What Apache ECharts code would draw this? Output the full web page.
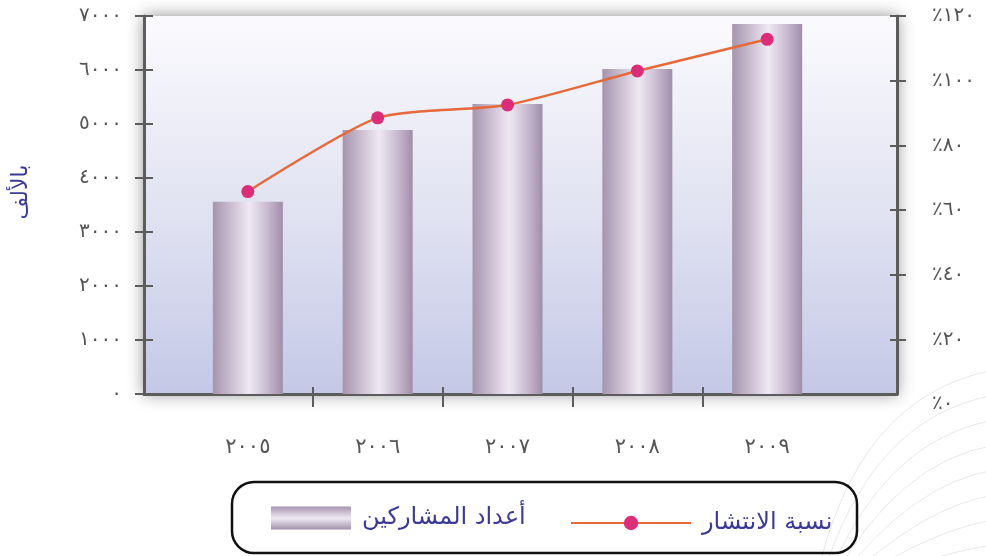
<!DOCTYPE html>
<html><head><meta charset="utf-8">
<script src="https://cdn.jsdelivr.net/npm/echarts@6/dist/echarts.min.js"></script>
<style>html,body{margin:0;padding:0;background:#fff}#c{width:986px;height:556px}</style>
</head><body><div id="c"></div>
<script>
// ---- data ----
const years = ['٢٠٠٥', '٢٠٠٦', '٢٠٠٧', '٢٠٠٨', '٢٠٠٩'];
const participants = [3560, 4890, 5370, 6020, 6850];      // thousands
const penetration = [65.7, 88.5, 92.5, 103, 112.8];       // percent
const leftTickLabels = ['٠', '١٠٠٠', '٢٠٠٠', '٣٠٠٠', '٤٠٠٠', '٥٠٠٠', '٦٠٠٠', '٧٠٠٠'];
const rightTickLabels = ['٪٠', '٪٢٠', '٪٤٠', '٪٦٠', '٪٨٠', '٪١٠٠', '٪١٢٠'];
const seriesNames = ['أعداد المشاركين', 'نسبة الانتشار'];
const unitName = 'بالألف';

const yearIdx = years.map((_, i) => i);
const boundaries = years.slice(1).map((_, i) => i + 0.5);
const rightTickVals = rightTickLabels.map((_, i) => i * 20);

const AX = '#5c5c5c';
const LBL = '#555555';
const FONT = "'DejaVu Sans', sans-serif";
const BLUE = '#3b3b96';

const barGrad = new echarts.graphic.LinearGradient(0, 0, 1, 0, [
  {offset: 0, color: '#a594ad'},
  {offset: 0.25, color: '#c9bccf'},
  {offset: 0.52, color: '#efe9f4'},
  {offset: 0.78, color: '#c8bad0'},
  {offset: 1, color: '#a08ea9'}
]);
const legendGrad = new echarts.graphic.LinearGradient(0, 0, 0, 1, [
  {offset: 0, color: '#a594ad'},
  {offset: 0.5, color: '#efe9f4'},
  {offset: 1, color: '#a392ac'}
]);
const bgGrad = new echarts.graphic.LinearGradient(0, 0, 0, 1, [
  {offset: 0, color: '#fbfbfe'},
  {offset: 0.5, color: '#e2e3f2'},
  {offset: 1, color: '#c4c8e6'}
]);

// decorative arcs (bottom right)
const deco = [];
for (let i = 0; i < 8; i++) {
  deco.push({
    type: 'bezierCurve', silent: true, z: -10,
    shape: {x1: 815 + 5 * i, y1: 585, cpx1: 855 + 14 * i, cpy1: 395 + 22 * i, x2: 995, y2: 370 + 25 * i},
    style: {stroke: '#e8e8e8', lineWidth: 1, fill: null}
  });
}

const noZero = {onZero: false};
const chart = echarts.init(document.getElementById('c'), null, {renderer: 'canvas'});
chart.setOption({
  animation: false,
  backgroundColor: '#ffffff',
  textStyle: {fontFamily: FONT},
  grid: [
    {left: 144, right: 89, top: 16, bottom: 162, show: true, backgroundColor: bgGrad,
     borderWidth: 0, shadowBlur: 16, shadowColor: 'rgba(0,0,0,0.45)', outerBoundsMode: 'none'},
    {left: 144, right: 89, top: 16, bottom: 152, show: false, outerBoundsMode: 'none'}
  ],
  xAxis: [
    {gridIndex: 0, type: 'value', min: -0.8, max: 5, position: 'bottom',
     axisLine: {show: true, onZero: false, lineStyle: {color: AX, width: 3}},
     axisTick: {show: true, customValues: boundaries, length: 13, lineStyle: {color: AX, width: 2}},
     axisLabel: {show: true, customValues: yearIdx, formatter: v => years[Math.round(v)],
                 margin: 43, fontSize: 21, fontWeight: 500, color: LBL, fontFamily: FONT},
     splitLine: {show: false}},
    {gridIndex: 0, type: 'value', min: -0.8, max: 5, position: 'bottom',
     axisLine: {show: false, onZero: false},
     axisTick: {show: true, inside: true, customValues: boundaries, length: 7, lineStyle: {color: AX, width: 2}},
     axisLabel: {show: false}, splitLine: {show: false}},
    {gridIndex: 1, type: 'value', min: -0.8, max: 5, show: false}
  ],
  yAxis: [
    {gridIndex: 0, type: 'value', position: 'left', min: 0, max: 7000, interval: 1000,
     name: unitName, nameLocation: 'middle', nameGap: 112, nameRotate: 90,
     nameTextStyle: {color: BLUE, fontSize: 22, fontFamily: FONT, padding: [0, 0, 0, 26]},
     axisLine: {show: true, onZero: false, lineStyle: {color: AX, width: 3}},
     axisTick: {show: true, length: 9, lineStyle: {color: AX, width: 2}},
     axisLabel: {show: true, margin: 22, fontSize: 20, fontWeight: 500, color: LBL, fontFamily: FONT,
                 formatter: v => leftTickLabels[Math.round(v / 1000)]},
     splitLine: {show: false}},
    {gridIndex: 0, type: 'value', position: 'left', min: 0, max: 7000, interval: 1000,
     axisLine: {show: false, onZero: false},
     axisTick: {show: true, inside: true, length: 9, lineStyle: {color: AX, width: 2}},
     axisLabel: {show: false}, splitLine: {show: false}},
    {gridIndex: 0, type: 'value', position: 'right', min: 3.1, max: 120,
     axisLine: {show: true, onZero: false, lineStyle: {color: AX, width: 3}},
     axisTick: {show: true, inside: true, length: 7, customValues: rightTickVals.slice(1), lineStyle: {color: AX, width: 2}},
     axisLabel: {show: false}, splitLine: {show: false}},
    {gridIndex: 1, type: 'value', position: 'right', min: 0, max: 120, interval: 20,
     axisLine: {show: false, onZero: false},
     axisTick: {show: true, length: 9, customValues: rightTickVals.slice(1), lineStyle: {color: AX, width: 2}},
     axisLabel: {show: true, margin: 35, fontSize: 20, fontWeight: 500, color: LBL, fontFamily: FONT,
                 customValues: rightTickVals, formatter: v => rightTickLabels[Math.round(v / 20)]},
     splitLine: {show: false}}
  ],
  legend: [
    {data: [{name: seriesNames[0], icon: 'rect', itemStyle: {color: legendGrad}}],
     left: 271, top: 506, padding: 0, itemWidth: 80, itemHeight: 23,
     textStyle: {color: BLUE, fontSize: 24, fontFamily: FONT, padding: [0, 0, 0, 6]}},
    {data: [{name: seriesNames[1]}],
     left: 570, top: 511, padding: 0, itemWidth: 120, itemHeight: 18,
     textStyle: {color: BLUE, fontSize: 24, fontFamily: FONT, padding: [0, 0, 0, 6]}}
  ],
  graphic: deco.concat([
    {type: 'rect', silent: true, z: 5,
     shape: {x: 232, y: 482, width: 625, height: 71, r: 22},
     style: {fill: null, stroke: '#111', lineWidth: 2.5}}
  ]),
  series: [
    {name: seriesNames[0], type: 'bar', xAxisIndex: 0, yAxisIndex: 0, barWidth: 70,
     data: participants.map((v, i) => [i, v]),
     itemStyle: {color: barGrad}},
    {name: seriesNames[1], type: 'line', xAxisIndex: 2, yAxisIndex: 3, smooth: 0.22,
     data: penetration.map((v, i) => [i, v]),
     symbol: 'circle', symbolSize: 13, z: 5,
     lineStyle: {color: '#e6693a', width: 2.5},
     itemStyle: {color: '#dc2d78'}}
  ]
});
</script></body></html>
